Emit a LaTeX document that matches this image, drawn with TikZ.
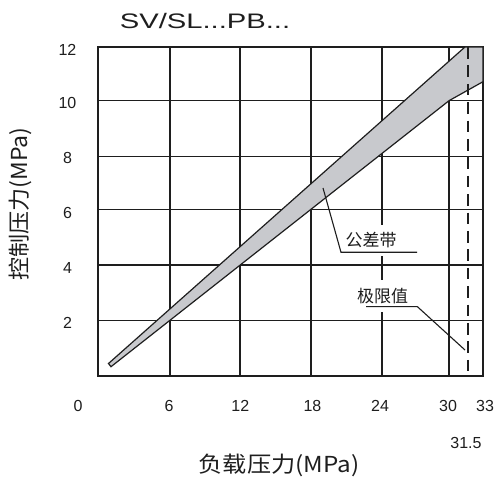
\documentclass[tikz,border=0pt]{standalone}
\usepackage{fontspec}
\setmainfont{Liberation Sans}
\newfontfamily\cjk{Noto Sans CJK SC}
\definecolor{bandgray}{RGB}{200,201,205}
\definecolor{inkline}{RGB}{30,30,30}
\begin{document}
\begin{tikzpicture}[x=1pt,y=-1pt,
  gridline/.style={line width=1.3pt, draw=inkline},
  bandline/.style={line width=1.2pt, draw=inkline, line join=miter},
  limitline/.style={line width=1.8pt, draw=inkline, dash pattern=on 11.7pt off 6.7pt},
  ticklbl/.style={font=\fontsize{16}{16}\selectfont, inner sep=0pt, text=inkline},
  cjklbl/.style={font=\cjk\fontsize{17}{17}\selectfont, fill=white, inner xsep=2pt, inner ysep=8pt, text=inkline},
  axislbl/.style={font=\cjk\fontsize{22}{22}\selectfont, inner sep=0pt, text=inkline},
  leader/.style={line width=1.1pt, draw=inkline},
]
\useasboundingbox (0,0) rectangle (496,481);
\fill[white] (0,0) rectangle (496,481);
% grid
\foreach \x in {170,240,311,382,449} \draw[gridline] (\x,47) -- (\x,376);
\foreach \y in {100.7,156.7,209.3,265,320.3} \draw[gridline] (98,\y) -- (483,\y);
\draw[gridline] (98,47) rectangle (483,376);
% tolerance band
\filldraw[fill=bandgray, bandline] (108.5,363.5) -- (465,47) -- (483,47) -- (483,81.7) -- (449,100.7) -- (111,366.7) -- cycle;
% limit line at 31.5
\coordinate (limtop) at (467.7,47);
\coordinate (limbot) at (467.7,376);
\draw[limitline] (limtop) -- (limbot);
% labels inside chart
\node[cjklbl] (tol) at (371,240.5) {公差带};
\node[cjklbl] (lim) at (382.5,296) {极限值};
\coordinate (tolpt) at (323,188);
\coordinate (tolbend) at (341,252.3);
\coordinate (tolend) at (417,252.3);
\draw[leader] (tolpt) -- (tolbend) -- (tolend);
\coordinate (limstart) at (366,306.6);
\coordinate (limbend) at (417.3,306.6);
\coordinate (limpt) at (465,350);
\draw[leader] (limstart) -- (limbend) -- (limpt);
% y tick labels
\node[ticklbl] (y12) at (67.5,49.5) {12};
\node[ticklbl] (y10) at (67.5,102.5) {10};
\node[ticklbl] (y8) at (67.5,157.5) {8};
\node[ticklbl] (y6) at (67.5,212.5) {6};
\node[ticklbl] (y4) at (67.5,267.5) {4};
\node[ticklbl] (y2) at (67.5,322.5) {2};
% x tick labels
\node[ticklbl] (x0) at (78,406) {0};
\node[ticklbl] (x6) at (169,406) {6};
\node[ticklbl] (x12) at (240.3,406) {12};
\node[ticklbl] (x18) at (312.5,406) {18};
\node[ticklbl] (x24) at (380,406) {24};
\node[ticklbl] (x30) at (448,406) {30};
\node[ticklbl] (x33) at (485,406) {33};
\node[ticklbl] (x315) at (466,443) {31.5};
% title and axis titles
\node[inner sep=0pt, font=\fontsize{21}{21}\selectfont, text=inkline] (title) at (205,21) {\scalebox{1.39}[1]{SV/SL...PB...}};
\node[axislbl] (xlabel) at (279,465) {\scalebox{1.1}[1]{负载压力(MPa)}};
\node[axislbl, rotate=90] (ylabel) at (20,204) {\scalebox{1.05}[1]{控制压力(MPa)}};
\end{tikzpicture}
\end{document}
